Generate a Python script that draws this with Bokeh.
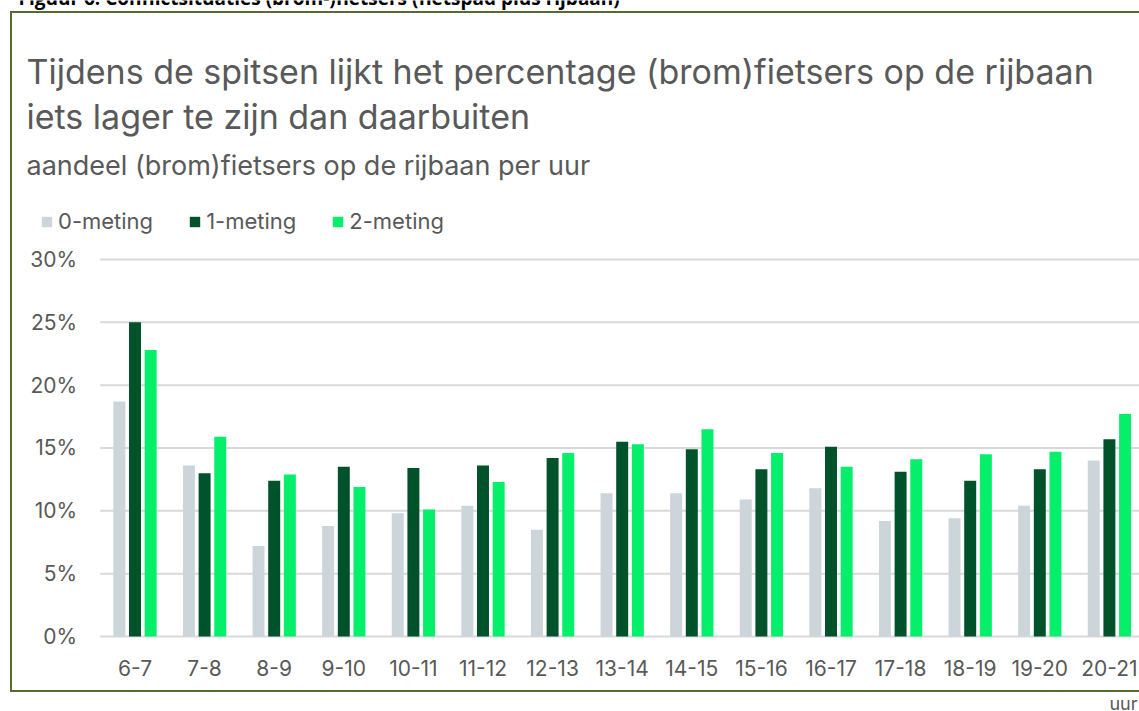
from bokeh.plotting import figure
from bokeh.models import (Range1d, FixedTicker, PrintfTickFormatter, Label,
                          Legend, LegendItem, ColumnDataSource)
from bokeh.transform import dodge
from bokeh.embed import file_html
from bokeh.resources import INLINE

# ---------------- data ----------------
categories = ["6-7", "7-8", "8-9", "9-10", "10-11", "11-12", "12-13", "13-14",
              "14-15", "15-16", "16-17", "17-18", "18-19", "19-20", "20-21"]
meting_0 = [18.7, 13.6, 7.2, 8.8, 9.8, 10.4, 8.5, 11.4, 11.4, 10.9, 11.8, 9.2, 9.4, 10.4, 14.0]
meting_1 = [25.0, 13.0, 12.4, 13.5, 13.4, 13.6, 14.2, 15.5, 14.9, 13.3, 15.1, 13.1, 12.4, 13.3, 15.7]
meting_2 = [22.8, 15.9, 12.9, 11.9, 10.1, 12.3, 14.6, 15.3, 16.5, 14.6, 13.5, 14.1, 14.5, 14.7, 17.7]
series_names = ["0-meting", "1-meting", "2-meting"]
y_ticks = [0, 5, 10, 15, 20, 25, 30]

caption = "Figuur 6: Conflictsituaties (brom-)fietsers (fietspad plus rijbaan)"
title_1 = "Tijdens de spitsen lijkt het percentage (brom)fietsers op de rijbaan"
title_2 = "iets lager te zijn dan daarbuiten"
subtitle = "aandeel (brom)fietsers op de rijbaan per uur"
x_title = "uur"

# ---------------- style / layout ----------------
FONT = "Inter"
TXT = "#595959"
COLORS = ["#CBD5DA", "#00522A", "#05EF6A"]
BORDER = "#556B2F"

W, H = 1139, 711
X0_PX, PX_PER_CAT = 134.5, 69.6      # canvas x of first category, px per category
Y0_PX, PX_PER_PCT = 636.0, 12.567    # canvas y of 0 %, px per percent
x_start = -X0_PX / PX_PER_CAT
x_end = x_start + W / PX_PER_CAT
y_start = -(H - Y0_PX) / PX_PER_PCT
y_end = Y0_PX / PX_PER_PCT

idx = list(range(len(categories)))
source = ColumnDataSource(dict(x=idx, m0=meting_0, m1=meting_1, m2=meting_2))

g = "linear-gradient({c},{c})".format(c=BORDER)
bg = (f"{g} 10px 11px / 2px 681px no-repeat, "
      f"{g} 10px 11px / 100% 2px no-repeat, "
      f"{g} 10px 690px / 100% 2px no-repeat, #ffffff")

p = figure(width=W, height=H, output_backend="svg", toolbar_location=None,
           x_range=Range1d(x_start, x_end), y_range=Range1d(y_start, y_end),
           min_border=0, styles={"background": bg})
p.outline_line_color = None
p.background_fill_color = None
p.border_fill_color = None
p.xgrid.visible = False
p.ygrid.visible = False

# horizontal gridlines starting at the left edge of the first category slot
grid_src = ColumnDataSource(dict(y=y_ticks, x0=[-0.5] * len(y_ticks),
                                 x1=[x_end + 1] * len(y_ticks)))
p.segment(x0="x0", x1="x1", y0="y", y1="y", source=grid_src,
          line_color="#D9D9D9", line_width=2)

offsets = [-0.225, 0.0, 0.225]
renderers = []
for col, off, colr in zip(["m0", "m1", "m2"], offsets, COLORS):
    r = p.vbar(x=dodge("x", off, range=p.x_range), top=col, width=0.172,
               bottom=0, source=source, fill_color=colr, line_color=None)
    renderers.append(r)

# axes drawn at fixed data locations inside the canvas
p.xaxis.fixed_location = 0
p.yaxis.fixed_location = -0.5
p.xaxis.ticker = FixedTicker(ticks=idx)
p.xaxis.major_label_overrides = {i: c for i, c in zip(idx, categories)}
p.yaxis.ticker = FixedTicker(ticks=y_ticks)
p.yaxis.formatter = PrintfTickFormatter(format="%d%%")
for ax in (p.xaxis, p.yaxis):
    ax.axis_line_color = None
    ax.major_tick_line_color = None
    ax.minor_tick_line_color = None
    ax.major_tick_out = 0
    ax.major_tick_in = 0
    ax.major_label_text_font = FONT
    ax.major_label_text_font_size = "21px"
    ax.major_label_text_color = TXT
p.yaxis.major_label_standoff = 23
p.xaxis.major_label_standoff = 23

# legend
legend = Legend(items=[LegendItem(label=n, renderers=[r]) for n, r in zip(series_names, renderers)],
                orientation="horizontal", location=(40, H - 234),
                label_text_font=FONT, label_text_font_size="22px", label_text_color=TXT,
                glyph_width=13, glyph_height=13, label_height=13, label_standoff=5,
                spacing=35, padding=0, margin=0,
                border_line_color=None, background_fill_alpha=0)
p.add_layout(legend, "center")

# texts (screen units: x from left, y up from bottom of the canvas)
def add_text(txt, cx, cy, size, align="left", color=TXT, font=FONT, style="normal"):
    p.add_layout(Label(x=cx, y=H - cy, x_units="screen", y_units="screen",
                       text=txt, text_font=font, text_font_size=size,
                       text_font_style=style, text_color=color,
                       text_align=align, text_baseline="alphabetic"))

add_text(caption, 18, -3, "19px", color="#000000", font="Open Sans", style="bold")
add_text(title_1, 26, 71, "34px")
add_text(title_2, 26, 116, "34px")
add_text(subtitle, 26, 165, "27px")
add_text(x_title, W - 2, 703, "18px", align="right")

open("out.html", "w").write(file_html(p, INLINE))
